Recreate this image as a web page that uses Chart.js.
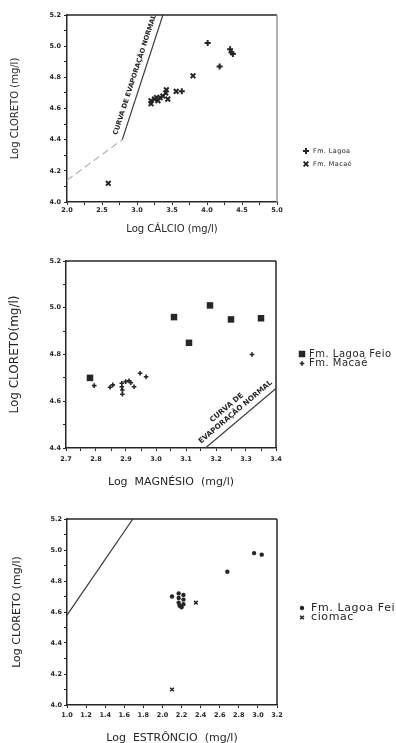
<!DOCTYPE html>
<html><head><meta charset="utf-8">
<script src="https://cdn.jsdelivr.net/npm/chart.js@4/dist/chart.umd.min.js"></script>
<style>
html,body{margin:0;padding:0;background:#fff;width:396px;height:743px;overflow:hidden;position:relative}
canvas{position:absolute;left:0}
</style></head><body>
<canvas id="c1" style="top:0px"></canvas>
<canvas id="c2" style="top:243px"></canvas>
<canvas id="c3" style="top:490px"></canvas>
<script>
// ---------- Panel 1: Log Cálcio x Log Cloreto ----------
const p1LagoaCa = [3.64, 4.01, 4.18, 4.33, 4.35, 4.37];
const p1LagoaCl = [4.71, 5.02, 4.87, 4.98, 4.96, 4.95];
const p1MacaeCa = [2.59, 3.20, 3.20, 3.25, 3.28, 3.30, 3.33, 3.37, 3.41, 3.42, 3.44, 3.56, 3.80];
const p1MacaeCl = [4.12, 4.65, 4.63, 4.66, 4.67, 4.65, 4.67, 4.68, 4.70, 4.72, 4.66, 4.71, 4.81];
const p1CurveCa = [2.00, 2.79, 3.37];
const p1CurveCl = [4.14, 4.40, 5.20];
const p1XTicks = [2.0, 2.5, 3.0, 3.5, 4.0, 4.5, 5.0];
const p1XLabels = ['2.0', '2.5', '3.0', '3.5', '4.0', '4.5', '5.0'];
const p1YTicks = [4.0, 4.2, 4.4, 4.6, 4.8, 5.0, 5.2];
const p1YLabels = ['4.0', '4.2', '4.4', '4.6', '4.8', '5.0', '5.2'];

// ---------- Panel 2: Log Magnésio x Log Cloreto ----------
const p2LagoaMg = [2.78, 3.06, 3.11, 3.18, 3.25, 3.35];
const p2LagoaCl = [4.70, 4.96, 4.85, 5.01, 4.95, 4.955];
const p2MacaeMg = [2.794, 2.847, 2.856, 2.886, 2.886, 2.888, 2.888, 2.899, 2.91, 2.916, 2.927, 2.947, 2.967, 3.32];
const p2MacaeCl = [4.667, 4.660, 4.670, 4.677, 4.662, 4.648, 4.630, 4.684, 4.688, 4.679, 4.662, 4.72, 4.705, 4.80];
const p2CurveMg = [3.165, 3.40];
const p2CurveCl = [4.40, 4.655];
const p2XTicks = [2.7, 2.8, 2.9, 3.0, 3.1, 3.2, 3.3, 3.4];
const p2XLabels = ['2.7', '2.8', '2.9', '3.0', '3.1', '3.2', '3.3', '3.4'];
const p2YTicks = [4.4, 4.6, 4.8, 5.0, 5.2];
const p2YLabels = ['4.4', '4.6', '4.8', '5.0', '5.2'];

// ---------- Panel 3: Log Estrôncio x Log Cloreto ----------
const p3LagoaSr = [2.10, 2.17, 2.17, 2.17, 2.18, 2.20, 2.22, 2.22, 2.22, 2.68, 2.96, 3.04];
const p3LagoaCl = [4.70, 4.72, 4.69, 4.66, 4.64, 4.63, 4.65, 4.68, 4.71, 4.86, 4.98, 4.97];
const p3MacSr = [2.35, 2.10];
const p3MacCl = [4.66, 4.10];
const p3CurveSr = [1.0, 1.69];
const p3CurveCl = [4.58, 5.20];
const p3XTicks = [1.0, 1.2, 1.4, 1.6, 1.8, 2.0, 2.2, 2.4, 2.6, 2.8, 3.0, 3.2];
const p3XLabels = ['1.0', '1.2', '1.4', '1.6', '1.8', '2.0', '2.2', '2.4', '2.6', '2.8', '3.0', '3.2'];
const p3YTicks = [4.0, 4.2, 4.4, 4.6, 4.8, 5.0, 5.2];
const p3YLabels = ['4.0', '4.2', '4.4', '4.6', '4.8', '5.0', '5.2'];

const INK = '#262626';
const SANS = "'DejaVu Sans', 'Liberation Sans', Arial, sans-serif";

function pts(xs, ys) { return xs.map((x, i) => ({x: x, y: ys[i]})); }

function drawMarker(ctx, style, r, x, y, bw) {
  ctx.save();
  ctx.fillStyle = INK; ctx.strokeStyle = INK; ctx.lineWidth = bw;
  ctx.beginPath();
  if (style === 'cross') {
    ctx.moveTo(x - r, y); ctx.lineTo(x + r, y); ctx.moveTo(x, y - r); ctx.lineTo(x, y + r); ctx.stroke();
  } else if (style === 'crossRot') {
    const d = r * Math.SQRT1_2;
    ctx.moveTo(x - d, y - d); ctx.lineTo(x + d, y + d); ctx.moveTo(x + d, y - d); ctx.lineTo(x - d, y + d); ctx.stroke();
  } else if (style === 'rect') {
    const s = r * Math.SQRT1_2; ctx.fillRect(x - s, y - s, 2 * s, 2 * s);
  } else {
    ctx.arc(x, y, r, 0, Math.PI * 2); ctx.fill();
  }
  ctx.restore();
}

const sideLegend = {
  id: 'sideLegend',
  afterDraw(chart, args, o) {
    const ctx = chart.ctx;
    let i = 0;
    ctx.save();
    chart.data.datasets.forEach(ds => {
      if (!ds.inLegend) return;
      const y = o.y + i * o.gap;
      drawMarker(ctx, ds.pointStyle, ds.pointRadius, o.mx, y, ds.borderWidth);
      ctx.fillStyle = INK;
      ctx.font = o.font;
      if ('letterSpacing' in ctx) ctx.letterSpacing = (o.spacing || 0) + 'px';
      ctx.textAlign = 'left'; ctx.textBaseline = 'middle';
      ctx.fillText(ds.label, o.tx, y);
      i++;
    });
    ctx.restore();
  }
};

const curveText = {
  id: 'curveText',
  afterDatasetsDraw(chart, args, o) {
    if (!o || !o.lines) return;
    const meta = chart.getDatasetMeta(o.dataset);
    const a = meta.data[o.from], b = meta.data[o.to];
    const ang = Math.atan2(b.y - a.y, b.x - a.x);
    const px = a.x + (b.x - a.x) * o.t, py = a.y + (b.y - a.y) * o.t;
    const ctx = chart.ctx;
    ctx.save();
    ctx.translate(px, py); ctx.rotate(ang);
    ctx.font = o.font; ctx.fillStyle = INK;
    ctx.textAlign = 'center'; ctx.textBaseline = 'middle';
    o.lines.forEach((s, k) => ctx.fillText(s, o.shift[k], o.offsets[k]));
    ctx.restore();
  }
};

const boxLines = {
  id: 'boxLines',
  afterDraw(chart, args, o) {
    const {left, right, top, bottom} = chart.chartArea;
    const ctx = chart.ctx;
    ctx.save();
    ctx.lineWidth = 1.5;
    ctx.strokeStyle = INK;
    ctx.beginPath(); ctx.moveTo(left, top); ctx.lineTo(right, top); ctx.stroke();
    ctx.strokeStyle = o.rightColor || INK;
    ctx.beginPath(); ctx.moveTo(right, top); ctx.lineTo(right, bottom); ctx.stroke();
    ctx.restore();
  }
};

function axis(cfg) {
  const {min, max, majors, labels, step, size, pad, title, titleFont, titlePad, horizontal} = cfg;
  return {
    type: 'linear', min: min, max: max,
    afterBuildTicks: s => {
      const t = []; const n = Math.round((max - min) / step);
      for (let i = 0; i <= n; i++) t.push({value: +(min + i * step).toFixed(4)});
      s.ticks = t;
    },
    afterFit: s => { if (horizontal) s.height = size; else s.width = size; },
    ticks: {
      autoSkip: false, maxRotation: 0, minRotation: 0, padding: pad, color: INK,
      font: {family: SANS, size: 6.5, weight: 'bold'},
      callback: v => { const k = majors.findIndex(m => Math.abs(m - v) < 1e-6); return k < 0 ? '' : labels[k]; }
    },
    grid: {display: true, drawOnChartArea: false, drawTicks: true, tickLength: 3, color: INK, lineWidth: 1},
    border: {display: true, color: INK, width: 1.5},
    title: {
      display: true, text: title, color: INK,
      font: {family: SANS, size: titleFont, lineHeight: 1},
      padding: horizontal ? {top: 0, bottom: 0} : {top: titlePad, bottom: 0}
    }
  };
}

function makePanel(p) {
  const cv = document.getElementById(p.id);
  cv.width = 396; cv.height = p.height;
  cv.style.width = '396px'; cv.style.height = p.height + 'px';
  const a = p.area; // in canvas coords
  const xSize = (p.xTitleY - a.bottom) + p.xTitleFont / 2;
  const ySize = a.left;
  new Chart(cv, {
    type: 'scatter',
    data: {datasets: p.datasets},
    options: {
      responsive: false, animation: false, devicePixelRatio: 1,
      layout: {padding: {left: 0, top: a.top, right: 396 - a.right, bottom: p.height - a.bottom - xSize}},
      plugins: {
        legend: {display: false}, tooltip: {enabled: false},
        sideLegend: p.legend, curveText: p.curveText || {}, boxLines: p.box || {}
      },
      scales: {
        x: axis(Object.assign({horizontal: true, size: xSize, titleFont: p.xTitleFont}, p.x)),
        y: axis(Object.assign({horizontal: false, size: ySize, titleFont: p.yTitleFont, titlePad: p.yTitleX - p.yTitleFont / 2}, p.y))
      }
    },
    plugins: [sideLegend, curveText, boxLines]
  });
}

function lineDs(xs, ys, extra) {
  return Object.assign({type: 'line', data: pts(xs, ys), showLine: true, pointRadius: 0, borderColor: '#3a3a3a', borderWidth: 1.2, fill: false, tension: 0}, extra || {});
}

// Panel 1
makePanel({
  id: 'c1', height: 243,
  area: {left: 67, right: 277, top: 15, bottom: 202},
  xTitleY: 229, xTitleFont: 10, yTitleX: 15, yTitleFont: 10,
  x: {min: 2.0, max: 5.0, majors: p1XTicks, labels: p1XLabels, step: 0.25, pad: 1, title: 'Log CÁLCIO (mg/l)'},
  y: {min: 4.0, max: 5.2, majors: p1YTicks, labels: p1YLabels, step: 0.1, pad: 3, title: 'Log CLORETO (mg/l)'},
  datasets: [
    {label: 'Fm. Lagoa', inLegend: true, data: pts(p1LagoaCa, p1LagoaCl), pointStyle: 'cross', pointRadius: 3, borderWidth: 2, borderColor: INK, backgroundColor: INK},
    {label: 'Fm. Macaé', inLegend: true, data: pts(p1MacaeCa, p1MacaeCl), pointStyle: 'crossRot', pointRadius: 3.3, borderWidth: 2, borderColor: INK, backgroundColor: INK},
    lineDs(p1CurveCa, p1CurveCl, {segment: {
      borderColor: c => c.p0DataIndex === 0 ? '#b4b4b4' : '#3a3a3a',
      borderDash: c => c.p0DataIndex === 0 ? [7, 4] : undefined
    }})
  ],
  legend: {mx: 306, tx: 313, y: 151, gap: 13, font: '6.5px ' + SANS, spacing: 0.4},
  curveText: {dataset: 2, from: 1, to: 2, t: 0.5, font: 'bold 6.7px ' + SANS, lines: ['CURVA DE EVAPORAÇÃO NORMAL'], offsets: [-8], shift: [0]},
  box: {rightColor: '#9a9a9a'}
});

// Panel 2
makePanel({
  id: 'c2', height: 247,
  area: {left: 66, right: 276, top: 18, bottom: 205},
  xTitleY: 239, xTitleFont: 11, yTitleX: 15, yTitleFont: 12,
  x: {min: 2.7, max: 3.4, majors: p2XTicks, labels: p2XLabels, step: 0.05, pad: 4, title: 'Log  MAGNÉSIO  (mg/l)'},
  y: {min: 4.4, max: 5.2, majors: p2YTicks, labels: p2YLabels, step: 0.1, pad: 2, title: 'Log CLORETO(mg/l)'},
  datasets: [
    {label: 'Fm. Lagoa Feio', inLegend: true, data: pts(p2LagoaMg, p2LagoaCl), pointStyle: 'rect', pointRadius: 4.6, borderWidth: 0, borderColor: INK, backgroundColor: INK},
    {label: 'Fm. Macaé', inLegend: true, data: pts(p2MacaeMg, p2MacaeCl), pointStyle: 'cross', pointRadius: 2.3, borderWidth: 1.6, borderColor: INK, backgroundColor: INK},
    lineDs(p2CurveMg, p2CurveCl)
  ],
  legend: {mx: 302, tx: 309, y: 111, gap: 9.5, font: '10px ' + SANS, spacing: 0.5},
  curveText: {dataset: 2, from: 0, to: 1, t: 0.5, font: 'bold 7.3px ' + SANS, lines: ['CURVA DE', 'EVAPORAÇÃO NORMAL'], offsets: [-17, -8], shift: [-4, 0]}
});

// Panel 3
makePanel({
  id: 'c3', height: 260,
  area: {left: 67, right: 277, top: 29, bottom: 215},
  xTitleY: 248, xTitleFont: 11, yTitleX: 17, yTitleFont: 11,
  x: {min: 1.0, max: 3.2, majors: p3XTicks, labels: p3XLabels, step: 0.2, pad: 3, title: 'Log  ESTRÔNCIO  (mg/l)'},
  y: {min: 4.0, max: 5.2, majors: p3YTicks, labels: p3YLabels, step: 0.1, pad: 2, title: 'Log CLORETO (mg/l)'},
  datasets: [
    {label: 'Fm. Lagoa Feio', inLegend: true, data: pts(p3LagoaSr, p3LagoaCl), pointStyle: 'circle', pointRadius: 2.2, borderWidth: 0, borderColor: INK, backgroundColor: INK},
    {label: 'ciomac', inLegend: true, data: pts(p3MacSr, p3MacCl), pointStyle: 'crossRot', pointRadius: 2.6, borderWidth: 1.5, borderColor: INK, backgroundColor: INK},
    lineDs(p3CurveSr, p3CurveCl)
  ],
  legend: {mx: 302, tx: 311, y: 118, gap: 9.5, font: '11px ' + SANS, spacing: 0.6}
});
</script>
</body></html>
